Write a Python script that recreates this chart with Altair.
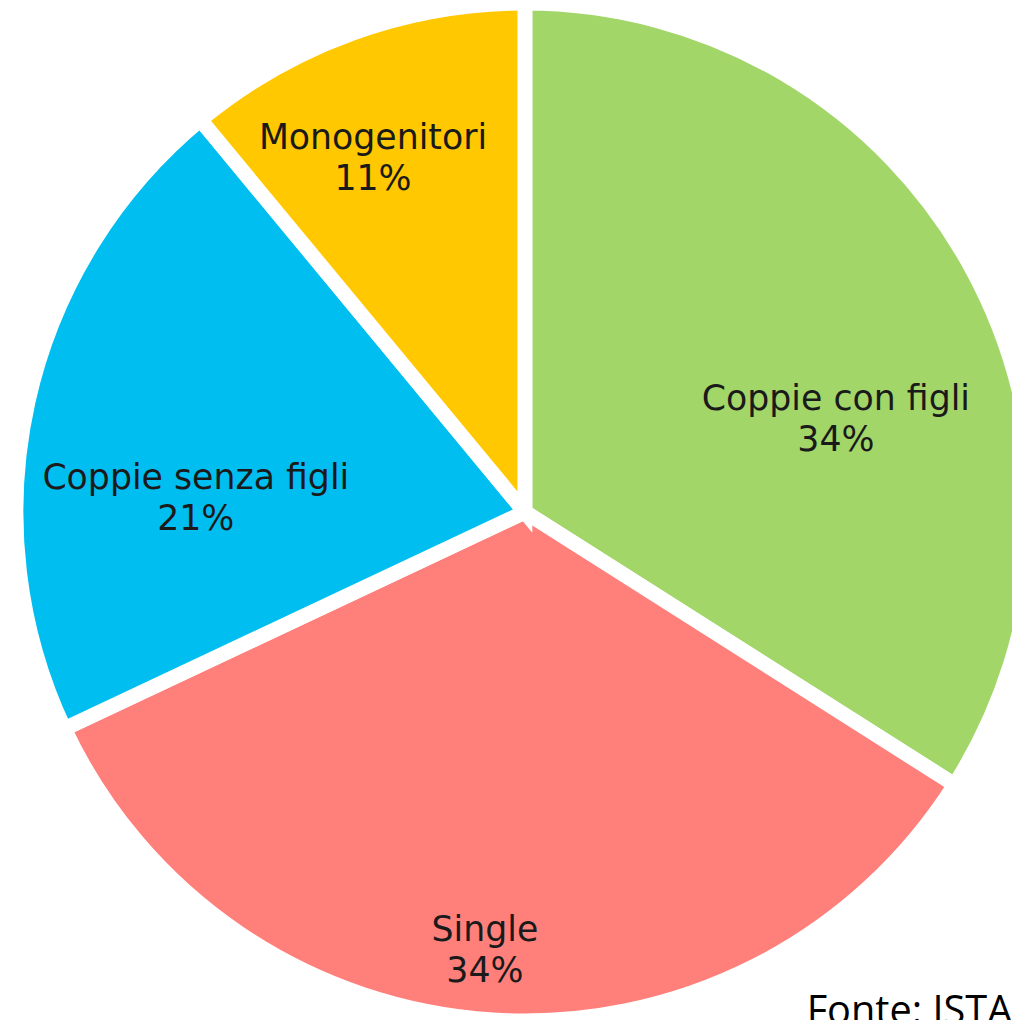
import altair as alt
import pandas as pd

categories = ["Coppie con figli", "Single", "Coppie senza figli", "Monogenitori"]
values = [34, 34, 21, 11]
colors = ["#A3D669", "#FF7F7B", "#00BFF0", "#FFC800"]
source_note = "Fonte: ISTAT"

df = pd.DataFrame({"cat": categories, "val": values, "idx": list(range(len(categories)))})
df["pct"] = df["val"].astype(str) + "%"
df["label"] = df["cat"] + "\n" + df["pct"]
total = df["val"].sum()
df["mid"] = (df["val"].cumsum() - df["val"] / 2) / total

# label layout: (radius px, theta offset in radians)
label_layout = {
    "Coppie con figli": (327, 0.214),
    "Single": (444, 0.028),
    "Coppie senza figli": (332, -0.18),
    "Monogenitori": (388, -0.06),
}

CX, CY = 521, 504
LINE_H = 41

base = alt.Chart(df)

pie = base.mark_arc(outerRadius=513, stroke="white", strokeWidth=15).encode(
    theta=alt.Theta("val:Q", stack=True),
    order=alt.Order("idx:Q"),
    color=alt.Color("cat:N", scale=alt.Scale(domain=categories, range=colors), legend=None),
    x=alt.value(CX),
    y=alt.value(CY),
)

text_layers = []
for cat in categories:
    r, toff = label_layout[cat]
    text_layers.append(
        base.transform_filter(alt.datum.cat == cat)
        .mark_text(
            radius=r,
            thetaOffset=toff,
            dy=-LINE_H / 2,
            font="DejaVu Sans",
            fontSize=35,
            color="#1a1a1a",
            align="center",
            baseline="middle",
            lineBreak="\n",
            lineHeight=LINE_H,
        )
        .encode(
            theta=alt.Theta("mid:Q", stack=False, scale=alt.Scale(domain=[0, 1], range=[0, 6.283185307])),
            text="label:N",
            x=alt.value(CX),
            y=alt.value(CY),
        )
    )
labels = alt.layer(*text_layers)

note = alt.Chart(pd.DataFrame({"t": [source_note]})).mark_text(
    font="Open Sans", fontSize=40, color="#000000", align="left", baseline="alphabetic"
).encode(text="t:N", x=alt.value(805), y=alt.value(1020))

chart = (
    alt.layer(pie, labels, note)
    .resolve_scale(theta="independent")
    .properties(
        width=1012, height=1012, padding=0, background="white",
        autosize=alt.AutoSizeParams(type="none"),
    )
    .configure_view(stroke=None)
)

chart.save("out.html", embed_options={"renderer": "svg", "actions": False})
